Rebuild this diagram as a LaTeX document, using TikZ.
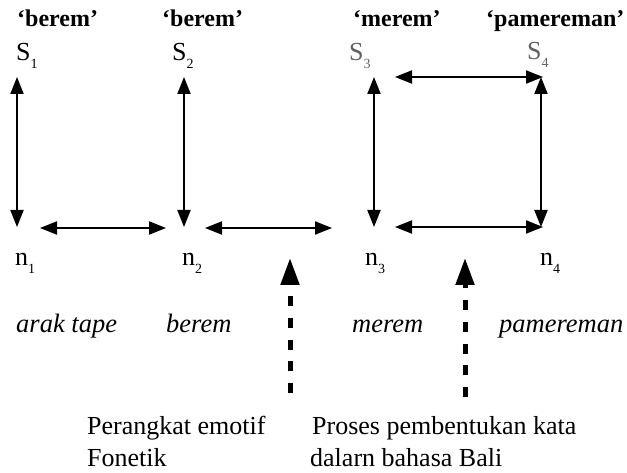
\documentclass[tikz,border=0pt]{standalone}
\usepackage{fontspec}
\setmainfont{Liberation Serif}
\usetikzlibrary{arrows.meta}
\newcommand{\lsub}[1]{\raisebox{-8pt}{\fontsize{14}{14}\selectfont #1}}
\tikzset{
  lbl/.style={anchor=base west, inner sep=0pt, font=\fontsize{26}{30}\selectfont},
  head/.style={anchor=base west, inner sep=0pt, font=\fontsize{24}{30}\selectfont\bfseries},
  ital/.style={anchor=base west, inner sep=0pt, font=\fontsize{26.5}{30}\selectfont\itshape},
  grey/.style={text=black!62},
  both/.style={line width=2pt, {Triangle[length=17pt,width=13pt]}-{Triangle[length=17pt,width=13pt]}},
  dasharrow/.style={line width=5pt, dash pattern=on 10pt off 11.7pt, -{Triangle[length=27pt,width=18pt]}},
}
\begin{document}
\begin{tikzpicture}[x=1pt,y=-1pt]
\useasboundingbox (0,0) rectangle (627,473);
% top labels
\node[head] (w1) at (17,27) {`berem'};
\node[head] (w2) at (162,27) {`berem'};
\node[head] (w3) at (353,27) {`merem'};
\node[head] (w4) at (486,27) {`pamereman'};
% S labels
\node[lbl] (S1) at (16,61) {S\lsub{1}};
\node[lbl] (S2) at (172,61) {S\lsub{2}};
\node[lbl,grey] (S3) at (349,61) {S\lsub{3}};
\node[lbl,grey] (S4) at (527,60) {S\lsub{4}};
% n labels
\node[lbl] (n1) at (15,266) {n\lsub{1}};
\node[lbl] (n2) at (182,266) {n\lsub{2}};
\node[lbl] (n3) at (365,266) {n\lsub{3}};
\node[lbl] (n4) at (540,266) {n\lsub{4}};
% italic words
\node[ital] (i1) at (16,333) {arak tape};
\node[ital] (i2) at (166,333) {berem};
\node[ital] (i3) at (352,333) {merem};
\node[ital] (i4) at (499,333) {pamereman};
% bottom texts
\node[lbl] (b1) at (87,434) {Perangkat emotif};
\node[lbl] (b2) at (87,466) {Fonetik};
\node[lbl] (b3) at (312,434) {Proses pembentukan kata};
\node[lbl] (b4) at (310,466) {dalarn bahasa Bali};
% arrow end points
\coordinate (v1t) at (17,77);   \coordinate (v1b) at (17,227);
\coordinate (v2t) at (184,77);  \coordinate (v2b) at (184,227);
\coordinate (h1l) at (40,228);  \coordinate (h1r) at (166,228);
\coordinate (h2l) at (205,228); \coordinate (h2r) at (332,228);
\coordinate (v3t) at (374,77);  \coordinate (v3b) at (374,227);
\coordinate (v4t) at (541,77);  \coordinate (v4b) at (541,227);
\coordinate (h3l) at (395,77);  \coordinate (h3r) at (543,77);
\coordinate (h4l) at (395,227); \coordinate (h4r) at (543,227);
\coordinate (d1b) at (290,393); \coordinate (d1t) at (290,258);
\coordinate (d2b) at (465,397); \coordinate (d2t) at (465,258);
% solid arrows
\draw[both] (v1t) -- (v1b);
\draw[both] (v2t) -- (v2b);
\draw[both] (h1l) -- (h1r);
\draw[both] (h2l) -- (h2r);
\draw[both] (v3t) -- (v3b);
\draw[both] (v4t) -- (v4b);
\draw[both] (h3l) -- (h3r);
\draw[both] (h4l) -- (h4r);
% dashed arrows
\draw[dasharrow] (d1b) -- (d1t);
\draw[dasharrow] (d2b) -- (d2t);
\end{tikzpicture}
\end{document}
